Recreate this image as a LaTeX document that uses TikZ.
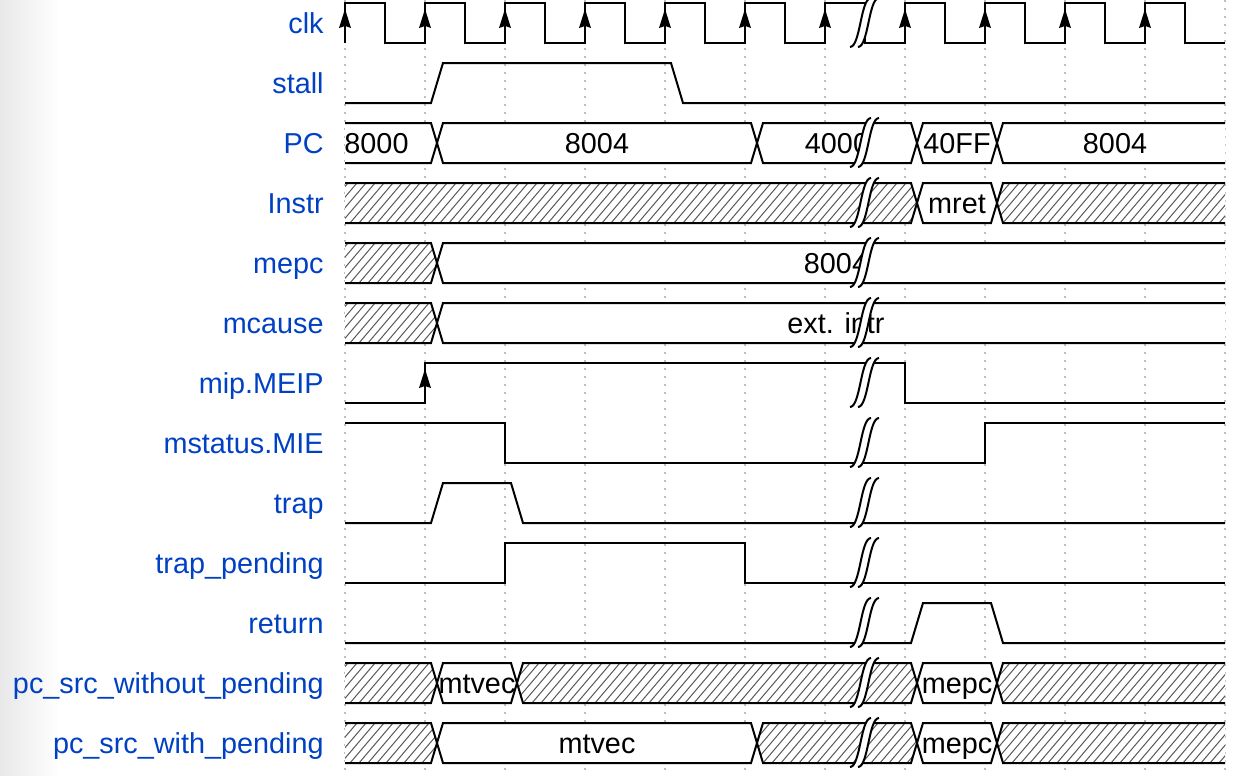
\documentclass[tikz,border=0pt]{standalone}
\usepackage{fontspec}
\setmainfont{Liberation Sans}
\usepackage{tikz}
\definecolor{azulRotulo}{HTML}{0041C4}
\definecolor{cinzaGrade}{RGB}{190,190,190}
\tikzset{
  sinal/.style={line width=1pt, black},
  grade/.style={cinzaGrade, line width=1pt, dash pattern=on 1pt off 3pt},
  hachura/.style={line width=0.5pt, black!65},
  rotulo/.style={anchor=base east, inner sep=0pt, text=azulRotulo,
                 font=\fontsize{14.4}{17}\selectfont},
  dado/.style={anchor=base, inner sep=0pt, font=\fontsize{14.4}{17}\selectfont},
}
% trecho de barramento: {linha}{transicao inicial}{transicao final}{h = hachura, d = dado}
\newcommand{\trecho}[4]{%
  \pgfmathsetmacro\ttop{3+60*#1}%
  \pgfmathsetmacro\tbot{43+60*#1}%
  \pgfmathsetmacro\tmid{23+60*#1}%
  \def\forma{(#2+18,\ttop) -- (#3+6,\ttop) -- (#3+12,\tmid) -- (#3+6,\tbot)
             -- (#2+18,\tbot) -- (#2+12,\tmid) -- cycle}%
  \fill[white] \forma;
  \ifx h#4
    \begin{scope}
      \clip \forma;
      \pgfmathtruncatemacro\ha{#2-45}\pgfmathtruncatemacro\hb{#2-36}%
      \pgfmathtruncatemacro\hc{#3+18}%
      \foreach \h in {\ha,\hb,...,\hc} {\draw[hachura] (\h,\tbot) -- (\h+34,\ttop);}
    \end{scope}
  \fi
  \draw[sinal] \forma;
}
% marca de intervalo
\newcommand{\quebra}[1]{%
  \pgfmathsetmacro\qt{3+60*#1-5}%
  \pgfmathsetmacro\qb{43+60*#1+4}%
  \fill[white] (850,\qb) .. controls (860.5,\qb) and (860.5,\qt) .. (871,\qt)
     -- (879,\qt) .. controls (868.5,\qt) and (868.5,\qb) .. (858,\qb) -- cycle;
  \draw[sinal] (850,\qb) .. controls (860.5,\qb) and (860.5,\qt) .. (871,\qt);
  \draw[sinal] (858,\qb) .. controls (868.5,\qb) and (868.5,\qt) .. (879,\qt);
}
\newcommand{\flecha}[2]{\fill (#1,#2-14) -- (#1+6,#2+5) -- (#1,#2+3) -- (#1-6,#2+5) -- cycle;}

\begin{document}
\begin{tikzpicture}[x=0.5pt, y=-0.5pt]
  \useasboundingbox (0,0) rectangle (1238,776);
  \shade[left color=black!9, right color=white] (0,0) rectangle (60,776);
  \foreach \k in {0,...,11} {\draw[grade] (345+80*\k,0) -- (345+80*\k,776);}

  \foreach \nome [count=\i from 0] in {clk, stall, PC, Instr, mepc, mcause, mip.MEIP,
      mstatus.MIE, trap, trap\_pending, return, pc\_src\_without\_pending, pc\_src\_with\_pending}
    {\node[rotulo] (r\i) at (324, 33.5+60*\i) {\nome};}

  \draw[sinal] (345,43) \foreach \k in {0,...,10} { |- (385+80*\k,3) |- (425+80*\k,43) };
  \foreach \k in {0,...,10} {\flecha{345+80*\k}{23}}
  \draw[sinal] (345,103) -- (431,103) -- (443,63) -- (671,63) -- (683,103) -- (1225,103);
  \draw[sinal] (345,403) -| (425,363) -| (905,403) -- (1225,403);
  \flecha{425}{383}
  \draw[sinal] (345,423) -| (505,463) -| (985,423) -- (1225,423);
  \draw[sinal] (345,523) -- (431,523) -- (443,483) -- (511,483) -- (523,523) -- (1225,523);
  \draw[sinal] (345,583) -| (505,543) -| (745,583) -- (1225,583);
  \draw[sinal] (345,643) -- (911,643) -- (923,603) -- (991,603) -- (1003,643) -- (1225,643);

  \begin{scope}
    \clip (345,0) rectangle (1225,776);
    \trecho{2}{-100}{425}{d} \trecho{2}{425}{745}{d} \trecho{2}{745}{905}{d}
    \trecho{2}{905}{985}{d} \trecho{2}{985}{1400}{d}
    \trecho{3}{-100}{905}{h} \trecho{3}{905}{985}{d} \trecho{3}{985}{1400}{h}
    \trecho{4}{-100}{425}{h} \trecho{4}{425}{1400}{d}
    \trecho{5}{-100}{425}{h} \trecho{5}{425}{1400}{d}
    \trecho{11}{-100}{425}{h} \trecho{11}{425}{505}{d} \trecho{11}{505}{905}{h}
    \trecho{11}{905}{985}{d} \trecho{11}{985}{1400}{h}
    \trecho{12}{-100}{425}{h} \trecho{12}{425}{745}{d} \trecho{12}{745}{905}{h}
    \trecho{12}{905}{985}{d} \trecho{12}{985}{1400}{h}
  \end{scope}

  \node[dado] (pc0) at (376.5,153.5) {8000};
  \node[dado] (pc1) at (597,153.5) {8004};
  \node[dado] (pc2) at (837,153.5) {4000};
  \node[dado] (pc3) at (957,153.5) {40FF};
  \node[dado] (pc4) at (1115,153.5) {8004};
  \node[dado] (instr) at (957,213.5) {mret};
  \node[dado] (mepc) at (836,273.5) {8004};
  \node[dado] (mcause) at (836,333.5) {ext. intr};
  \node[dado] (sem0) at (477,693.5) {mtvec};
  \node[dado] (sem1) at (957,693.5) {mepc};
  \node[dado] (com0) at (597,753.5) {mtvec};
  \node[dado] (com1) at (957,753.5) {mepc};

  \foreach \i in {0,2,3,4,5,6,7,8,9,10,11,12} {\quebra{\i}}
\end{tikzpicture}
\end{document}
